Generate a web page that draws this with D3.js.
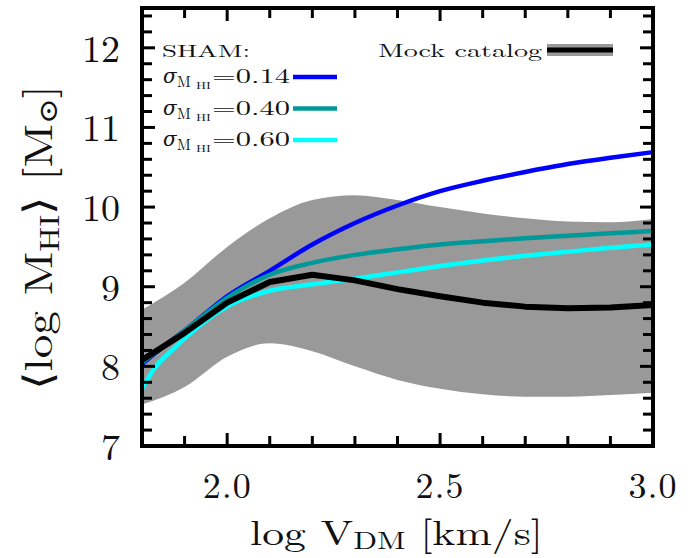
<!DOCTYPE html>
<html>
<head>
<meta charset="utf-8">
<script src="https://cdn.jsdelivr.net/npm/d3@7"></script>
<style>
  body { margin: 0; background: #fff; }
  text { font-family: "Latin Modern Roman", "CMU Serif", "DejaVu Serif", serif; fill: #111; }
</style>
</head>
<body>
<div id="chart"></div>
<script>
// mock catalog (median + band), sampled every 0.1 in log V
const mockX     = [1.8, 1.9, 2.0, 2.1, 2.2, 2.3, 2.4, 2.5, 2.6, 2.7, 2.8, 2.9, 3.0];
const mockMed   = [8.08, 8.42, 8.8, 9.06, 9.15, 9.08, 8.97, 8.88, 8.8, 8.75, 8.73, 8.74, 8.77];
const mockUpper = [8.71, 9.05, 9.5, 9.86, 10.09, 10.15, 10.09, 10.0, 9.92, 9.86, 9.82, 9.81, 9.85];
const mockLower = [7.52, 7.74, 8.12, 8.29, 8.19, 8.0, 7.83, 7.72, 7.65, 7.62, 7.62, 7.64, 7.67];

// SHAM curves
const shamX   = [1.8, 1.83, 1.87, 1.9, 2.0, 2.1, 2.2, 2.3, 2.4, 2.5, 2.6, 2.7, 2.8, 2.9, 3.0];
const sham014 = [8.03, 8.16, 8.33, 8.45, 8.88, 9.2, 9.53, 9.8, 10.02, 10.2, 10.33, 10.44, 10.54, 10.62, 10.69];
const sham040 = [8.05, 8.17, 8.33, 8.45, 8.86, 9.15, 9.3, 9.4, 9.47, 9.53, 9.57, 9.61, 9.64, 9.67, 9.7];
const sham060 = [7.72, 7.98, 8.2, 8.35, 8.75, 8.95, 9.03, 9.1, 9.18, 9.26, 9.33, 9.39, 9.44, 9.49, 9.53];

const shamLabels = ["0.14", "0.40", "0.60"];
const shamColors = ["#0000ff", "#009999", "#00ffff"];

const xTicks = [2.0, 2.5, 3.0];
const yTicks = [7, 8, 9, 10, 11, 12];

const width = 699, height = 558;
const margin = { left: 142, right: 46, top: 8, bottom: 112 };

const svg = d3.select("#chart").append("svg")
  .attr("width", width)
  .attr("height", height);

const x = d3.scaleLinear().domain([1.8, 3.0]).range([margin.left, width - margin.right]);
const y = d3.scaleLinear().domain([7, 12.5]).range([height - margin.bottom, margin.top]);

// gray band
const band = d3.area()
  .x((d, i) => x(mockX[i]))
  .y0((d, i) => y(mockLower[i]))
  .y1((d, i) => y(mockUpper[i]))
  .curve(d3.curveMonotoneX);

svg.append("path")
  .datum(mockX)
  .attr("d", band)
  .attr("fill", "#999999");

// SHAM lines
const shamLine = d3.line()
  .x((d, i) => x(shamX[i]))
  .y(d => y(d))
  .curve(d3.curveMonotoneX);

[sham014, sham040, sham060].forEach((s, k) => {
  svg.append("path")
    .datum(s)
    .attr("d", shamLine)
    .attr("fill", "none")
    .attr("stroke", shamColors[k])
    .attr("stroke-width", 4.5);
});

// mock median (straight segments)
const mockLine = d3.line()
  .x((d, i) => x(mockX[i]))
  .y(d => y(d));

svg.append("path")
  .datum(mockMed)
  .attr("d", mockLine)
  .attr("fill", "none")
  .attr("stroke", "#000")
  .attr("stroke-width", 6)
  .attr("stroke-linejoin", "round");

// ticks on all four sides, inward
const x0 = x.range()[0], x1 = x.range()[1];
const y0 = y.range()[0], y1 = y.range()[1];
const tk = svg.append("g").attr("stroke", "#000").attr("stroke-width", 3);

d3.range(1.8, 3.0001, 0.1).forEach(v => {
  const major = xTicks.some(t => Math.abs(t - v) < 1e-6);
  const len = major ? 13 : 10;
  tk.append("line").attr("x1", x(v)).attr("x2", x(v)).attr("y1", y0).attr("y2", y0 - len);
  tk.append("line").attr("x1", x(v)).attr("x2", x(v)).attr("y1", y1).attr("y2", y1 + len);
});
d3.range(7, 12.5001, 0.2).forEach(v => {
  const major = Math.abs(v - Math.round(v)) < 1e-6;
  const len = major ? 13 : 10;
  tk.append("line").attr("y1", y(v)).attr("y2", y(v)).attr("x1", x0).attr("x2", x0 + len);
  tk.append("line").attr("y1", y(v)).attr("y2", y(v)).attr("x1", x1).attr("x2", x1 - len);
});

// frame
svg.append("rect")
  .attr("x", x0).attr("y", y1)
  .attr("width", x1 - x0).attr("height", y0 - y1)
  .attr("fill", "none")
  .attr("stroke", "#000")
  .attr("stroke-width", 4);

// tick labels
svg.selectAll(".xtl").data(xTicks).enter().append("text")
  .attr("x", d => x(d)).attr("y", y0 + 52)
  .attr("text-anchor", "middle")
  .attr("font-size", 36)
  .attr("letter-spacing", 1)
  .text(d => d.toFixed(1));

svg.selectAll(".ytl").data(yTicks).enter().append("text")
  .attr("x", x0 - 22).attr("y", d => y(d) + 14)
  .attr("text-anchor", "end")
  .attr("font-size", 38)
  .text(d => d);

// axis titles
const xt = svg.append("text")
  .attr("x", 250).attr("y", 545)
  .attr("font-size", 35)
  .attr("textLength", 293)
  .attr("lengthAdjust", "spacingAndGlyphs");
xt.append("tspan").text("log V");
xt.append("tspan").attr("font-size", 25).attr("dy", 4).text("DM");
xt.append("tspan").attr("dy", -4).text(" [km/s]");

const yt = svg.append("text")
  .attr("transform", "translate(52,390) rotate(-90)")
  .attr("font-size", 40)
  .attr("textLength", 305)
  .attr("lengthAdjust", "spacingAndGlyphs");
yt.append("tspan").text("⟨log M");
yt.append("tspan").attr("font-size", 28).attr("dy", 7).text("HI");
yt.append("tspan").attr("dy", -7).text("⟩ [M");
yt.append("tspan").attr("font-size", 26).attr("dy", 5).text("⊙");
yt.append("tspan").attr("dy", -5).text("]");

// legend: SHAM
svg.append("text").attr("x", 162).attr("y", 57).attr("font-size", 17)
  .attr("textLength", 88).attr("lengthAdjust", "spacingAndGlyphs").text("SHAM:");

shamLabels.forEach((lab, k) => {
  const ly = 77 + k * 31.5;
  const base = ly + 6;
  svg.append("text").attr("x", 163).attr("y", base).attr("font-size", 20)
    .attr("font-style", "italic").text("σ");
  svg.append("text").attr("x", 177).attr("y", base + 4).attr("font-size", 15).text("M");
  svg.append("text").attr("x", 196).attr("y", base + 6).attr("font-size", 10)
    .attr("textLength", 15).attr("lengthAdjust", "spacingAndGlyphs").text("HI");
  svg.append("text").attr("x", 212).attr("y", base).attr("font-size", 20)
    .attr("textLength", 78).attr("lengthAdjust", "spacingAndGlyphs").text("=" + lab);
  svg.append("line")
    .attr("x1", 293).attr("x2", 337).attr("y1", ly).attr("y2", ly)
    .attr("stroke", shamColors[k]).attr("stroke-width", 4.5);
});

// legend: mock catalog
svg.append("text").attr("x", 378).attr("y", 57).attr("font-size", 18)
  .attr("textLength", 164).attr("lengthAdjust", "spacingAndGlyphs").text("Mock catalog");
svg.append("line").attr("x1", 547).attr("x2", 613).attr("y1", 50).attr("y2", 50)
  .attr("stroke", "#999999").attr("stroke-width", 12);
svg.append("line").attr("x1", 547).attr("x2", 613).attr("y1", 50).attr("y2", 50)
  .attr("stroke", "#000").attr("stroke-width", 5);
</script>
</body>
</html>
